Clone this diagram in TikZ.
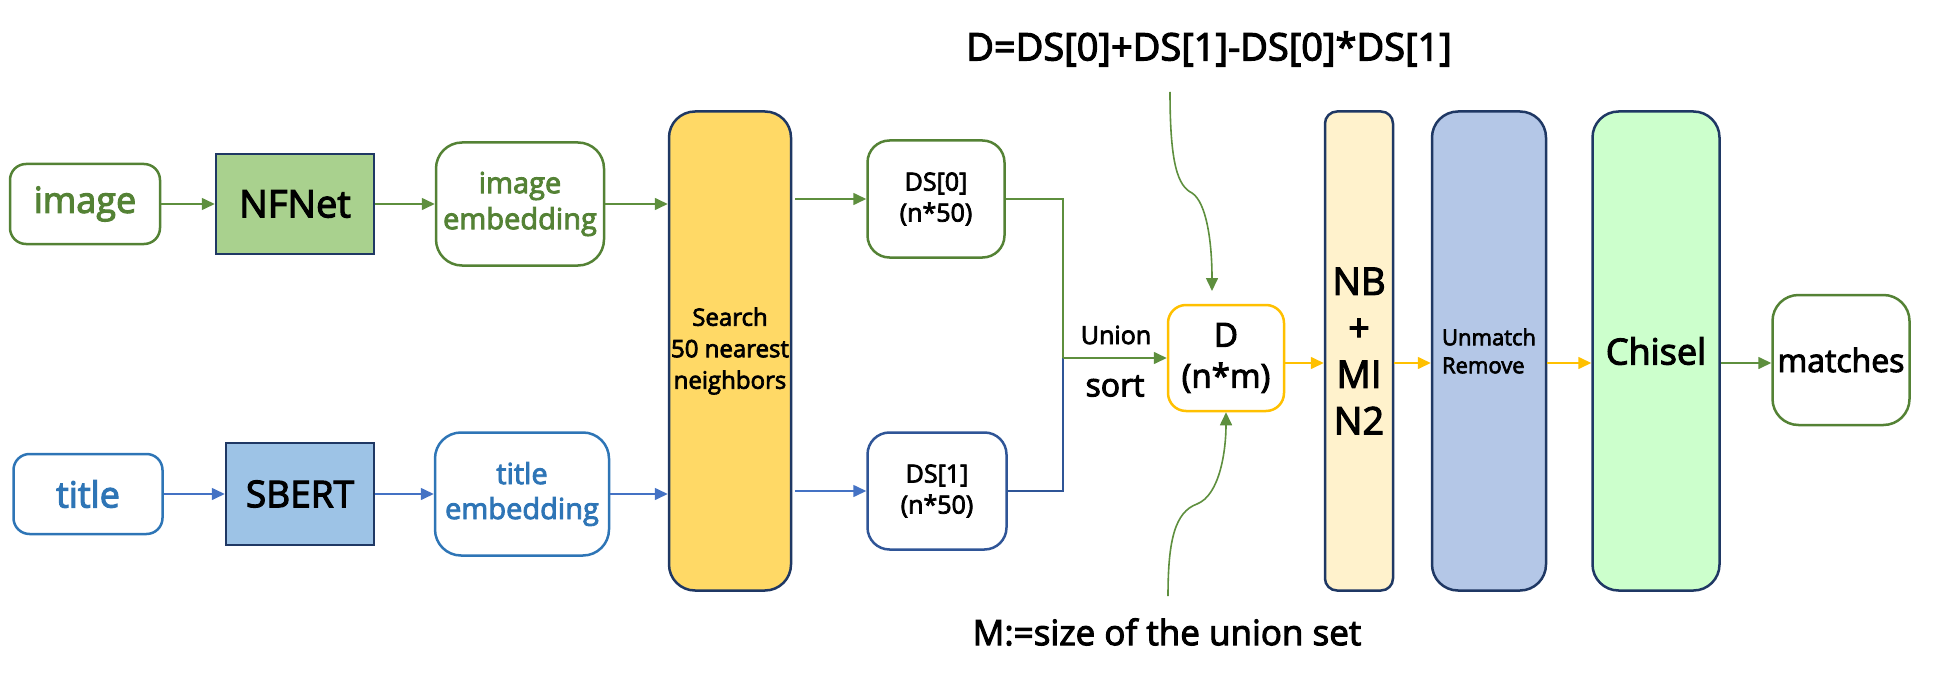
\documentclass[tikz,border=0pt]{standalone}
\usepackage{fontspec}
\setmainfont{Open Sans}[UprightFeatures={FakeBold=3}]
\usetikzlibrary{arrows.meta}
\definecolor{gcol}{HTML}{548235}
\definecolor{garr}{HTML}{5E8F3E}
\definecolor{bcol}{HTML}{2E75B6}
\definecolor{barr}{HTML}{4472C4}
\definecolor{dbcol}{HTML}{2F5597}
\definecolor{navy}{HTML}{1F3864}
\definecolor{ycol}{HTML}{FFC000}
\definecolor{nfcol}{HTML}{A9D18E}
\definecolor{sbcol}{HTML}{9DC3E6}
\definecolor{srcol}{HTML}{FFD966}
\definecolor{nbcol}{HTML}{FFF2CC}
\definecolor{umcol}{HTML}{B4C7E7}
\definecolor{chcol}{HTML}{CCFFCC}
\tikzset{
  bx/.style={draw, line width=2.5pt, inner sep=0pt, align=center},
  fs/.style={font=\fontsize{#1}{#1}\selectfont},
  garrow/.style={draw=garr, line width=1.6pt, -{Triangle[length=13pt,width=12pt]}},
  barrow/.style={draw=barr, line width=1.6pt, -{Triangle[length=13pt,width=12pt]}},
  yarrow/.style={draw=ycol, line width=1.6pt, -{Triangle[length=13pt,width=12pt]}},
  thinline/.style={line width=1.2pt},
}
\begin{document}
\begin{tikzpicture}[x=1pt,y=-1pt]
\useasboundingbox (0,0) rectangle (1936,674);
% top row
\node[bx, draw=gcol, rounded corners=16pt, minimum width=150pt, minimum height=80pt, text=gcol, font=\fontsize{36}{40}\selectfont] (img) at (85,204) {image};
\node[bx, draw=navy, fill=nfcol, minimum width=158pt, minimum height=100pt, font=\fontsize{38}{40}\selectfont] (nfnet) at (295,204) {NFNet};
\node[bx, draw=gcol, rounded corners=26pt, minimum width=168pt, minimum height=123pt, text=gcol, font=\fontsize{29}{36}\selectfont] (imgemb) at (520,204) {image\\embedding};
% bottom row
\node[bx, draw=bcol, rounded corners=16pt, minimum width=149pt, minimum height=80pt, text=bcol, font=\fontsize{36}{40}\selectfont] (ttl) at (88,494) {title};
\node[bx, draw=navy, fill=sbcol, minimum width=148pt, minimum height=102pt, font=\fontsize{37}{40}\selectfont] (sbert) at (300,494) {SBERT};
\node[bx, draw=bcol, rounded corners=26pt, minimum width=174pt, minimum height=123pt, text=bcol, font=\fontsize{29}{35}\selectfont] (ttlemb) at (522,494) {title\\embedding};
% search
\node[bx, draw=navy, fill=srcol, rounded corners=26pt, minimum width=122pt, minimum height=479pt, font=\fontsize{24}{31.5}\selectfont] (search) at (730,351) {Search\\50 nearest\\neighbors};
% DS
\node[bx, draw=gcol, rounded corners=22pt, minimum width=137pt, minimum height=117pt, font=\fontsize{25}{31}\selectfont] (ds0) at (936,199) {DS[0]\\(n*50)};
\node[bx, draw=dbcol, rounded corners=22pt, minimum width=139pt, minimum height=117pt, font=\fontsize{25}{31}\selectfont] (ds1) at (937,491) {DS[1]\\(n*50)};
% D
\node[bx, draw=ycol, rounded corners=18pt, minimum width=116pt, minimum height=106pt, font=\fontsize{33}{41}\selectfont] (dnode) at (1226,358) {D\\(n*m)};
% right columns
\node[bx, draw=navy, fill=nbcol, rounded corners=12pt, minimum width=68pt, minimum height=479pt, font=\fontsize{38}{46.5}\selectfont] (nb) at (1359,351) {NB\\+\\MI\\N2};
\node[bx, draw=navy, fill=umcol, rounded corners=26pt, minimum width=114pt, minimum height=479pt, align=left, font=\fontsize{22}{28}\selectfont] (unm) at (1489,351) {Unmatch\\Remove};
\node[bx, draw=navy, fill=chcol, rounded corners=26pt, minimum width=127pt, minimum height=479pt, font=\fontsize{36}{40}\selectfont] (chisel) at (1656,351) {Chisel};
\node[bx, draw=gcol, rounded corners=26pt, minimum width=137pt, minimum height=130pt, font=\fontsize{32}{40}\selectfont] (matches) at (1841,360) {matches};
% texts
\node[fs=38] (formula) at (1209,49) {D=DS[0]+DS[1]-DS[0]*DS[1]};
\node[fs=35] (mtext) at (1167,632) {M:=size of the union set};
\node[fs=25] (union) at (1116,335) {Union};
\node[fs=32] (sort) at (1115,386) {sort};
% arrows top row
\draw[garrow] (img.east) -- (nfnet.west);
\draw[garrow] (nfnet.east) -- (imgemb.west);
\draw[garrow] (imgemb.east) -- (imgemb.east -| search.west);
% arrows bottom row
\draw[barrow] (ttl.east) -- (sbert.west);
\draw[barrow] (sbert.east) -- (ttlemb.west);
\draw[barrow] (ttlemb.east) -- (ttlemb.east -| search.west);
% search to DS
\draw[garrow] ([xshift=3pt]search.east |- ds0.west) -- (ds0.west);
\draw[barrow] ([xshift=3pt]search.east |- ds1.west) -- (ds1.west);
% merge
\coordinate (mj) at (1063,358);
\draw[thinline, draw=garr] (ds0.east) -| (mj);
\draw[thinline, draw=dbcol] (ds1.east) -| (mj);
\draw[garrow] (mj) -- (dnode.west);
% right chain
\coordinate (rowr) at (0,363);
\draw[yarrow] (dnode.east |- rowr) -- (nb.west |- rowr);
\draw[yarrow] (nb.east |- rowr) -- (unm.west |- rowr);
\draw[yarrow] (unm.east |- rowr) -- (chisel.west |- rowr);
\draw[garrow] (chisel.east |- rowr) -- (matches.west |- rowr);
% curves
\coordinate (ftop) at (1170,92);
\coordinate (fkink) at (1192,193);
\coordinate (fend) at (1212,291);
\draw[garrow] (ftop) .. controls (1170,165) and (1178,186) .. (fkink) .. controls (1206,202) and (1212,240) .. (fend);
\coordinate (mbot) at (1168,596);
\coordinate (mkink) at (1197,504);
\draw[garrow] (mbot) .. controls (1168,540) and (1175,512) .. (mkink) .. controls (1220,495) and (1226,450) .. (dnode.south);
\end{tikzpicture}
\end{document}
